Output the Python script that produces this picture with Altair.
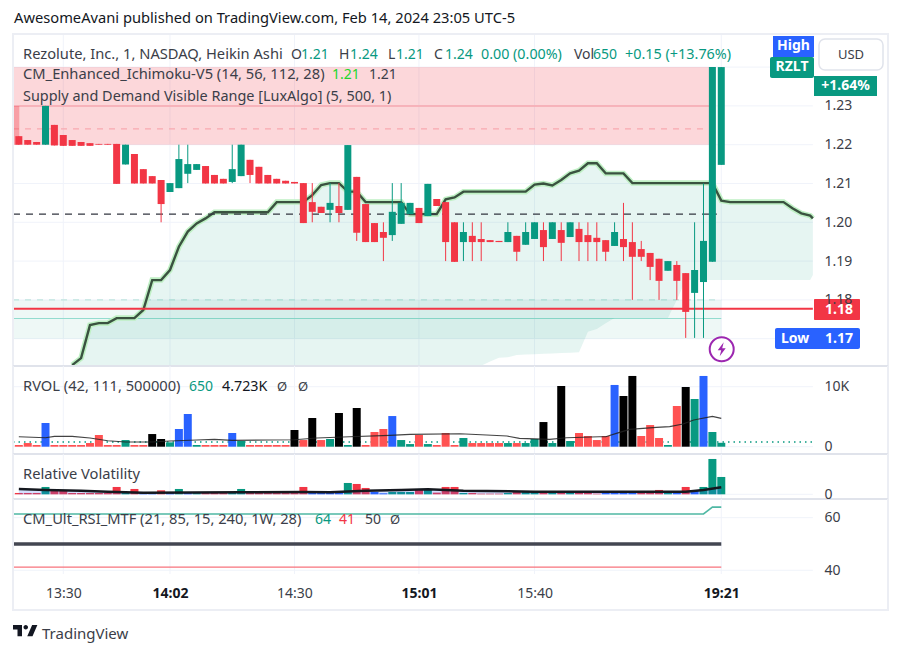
import altair as alt
import pandas as pd

# ---------- price candles (one value per bar, i = 0..79) ----------
candle_top = [1.2222,1.2212,1.2207,1.23,1.2251,1.2225,1.2212,1.2207,1.2204,1.2202,
 1.2202,1.2202,1.22,1.2176,1.2137,1.2119,1.2109,1.2101,1.2163,1.215,
 1.215,1.2145,1.2122,1.2112,1.2137,1.22,1.2161,1.2143,1.2122,1.2112,
 1.2107,1.2104,1.2101,1.2052,1.204,1.205,1.2042,1.2199,1.2117,1.2047,
 1.1998,1.1975,1.2027,1.205,1.205,1.2037,1.2099,1.206,1.2052,1.20,
 1.1975,1.1965,1.1957,1.1954,1.1952,1.1975,1.1965,1.1975,1.20,1.198,
 1.20,1.198,1.20,1.1983,1.1967,1.196,1.1954,1.1975,1.1957,1.1949,
 1.1931,1.1921,1.1906,1.19,1.189,1.1869,1.1877,1.1952,1.24,1.24]
candle_bottom = [1.22,1.22,1.22,1.22,1.2198,1.2197,1.2197,1.2197,1.2197,1.22,
 1.22,1.2099,1.2149,1.21,1.21,1.21,1.2047,1.2078,1.2088,1.2125,
 1.2135,1.21,1.21,1.21,1.2104,1.2119,1.2122,1.21,1.21,1.21,
 1.21,1.21,1.1998,1.2027,1.2024,1.2032,1.2024,1.2032,1.1973,1.1949,
 1.1949,1.196,1.1967,1.1996,1.2021,1.1998,1.2016,1.2042,1.1949,1.1898,
 1.1949,1.1949,1.1949,1.1949,1.1949,1.1949,1.1924,1.1942,1.1957,1.1936,
 1.1957,1.1947,1.1962,1.1949,1.1949,1.1949,1.1924,1.1939,1.1936,1.1911,
 1.1911,1.1885,1.1849,1.1875,1.1849,1.1769,1.1818,1.1846,1.1898,1.2148]
wick_high = list(candle_top)
wick_low = list(candle_bottom)
for k, v in {18:1.22,19:1.22,24:1.22,33:1.2101,35:1.2101,36:1.2101,41:1.20,42:1.2101,43:1.2101,
             50:1.20,51:1.20,52:1.20,55:1.20,57:1.20,59:1.20,61:1.20,63:1.20,64:1.20,65:1.20,
             67:1.20,68:1.205,69:1.20,70:1.1952,74:1.19,76:1.20,77:1.21}.items():
    wick_high[k] = v
for k, v in {16:1.20,19:1.2101,24:1.2101,26:1.2101,33:1.20,35:1.20,36:1.20,38:1.1952,41:1.19,42:1.1952,
             48:1.19,50:1.19,51:1.19,52:1.19,56:1.19,59:1.19,61:1.19,63:1.19,64:1.19,65:1.19,
             66:1.19,68:1.19,69:1.18,70:1.19,71:1.1851,72:1.18,74:1.18,75:1.1702,76:1.1702,77:1.1702}.items():
    wick_low[k] = v
candle_up = {3,12,17,18,19,20,24,25,35,37,42,43,44,46,50,55,57,58,60,62,67,73,76,77,78,79}

# ---------- Ichimoku line and cloud ----------
cloud_i = [6,7,8,9,10,11,13,14,15,16,17,18,19,20,21,22,28,29,32,33,34,35,36,37,38,39,43,44,47,48,49,50,52,
           53,54,55,56,57,58,59,60,61,62,63,64,65,66,67,68,69,73,74,75,78,79,80,86,87,88,89,89.3]
cloud_upper = [1.1632,1.165,1.1735,1.174,1.174,1.1753,1.1753,1.1774,1.1851,1.1851,1.1877,1.1937,1.1976,1.1997,
               1.201,1.2026,1.2026,1.2052,1.2052,1.207,1.2096,1.2101,1.2101,1.2079,1.2079,1.2052,1.2052,1.2021,
               1.2021,1.2059,1.2064,1.2079,1.2079,1.2079,1.2079,1.2079,1.2079,1.2079,1.2097,1.21,1.2095,1.2109,
               1.2126,1.2133,1.2152,1.2152,1.2126,1.2126,1.2126,1.2101,1.2101,1.2101,1.2101,1.2101,1.2056,1.2052,
               1.2052,1.2036,1.2023,1.2017,1.201]
cloud_lower = [1.163]*33 + [1.1641,1.1651,1.1652,1.1658,1.1659,1.166,1.1661,1.1662,1.1663,1.1664,1.1665,1.1718,
               1.1725,1.174,1.1753,1.1753,1.1753,1.1753,1.18,1.1851,1.1851,1.1851,1.1851,1.1851,1.1851,
               1.1851,1.1851,1.1864]

# ---------- RVOL ----------
rvol_values = [280,610,280,3950,280,280,280,280,610,1950,280,280,1110,280,280,2110,1280,720,2950,5450,
 280,280,280,280,2280,950,280,280,280,280,280,2780,1110,4780,1110,1280,5620,280,6450,280,
 2450,2950,5110,1110,440,1950,440,280,2280,280,1450,610,610,610,610,610,610,610,1280,4110,
 610,10120,950,2280,1780,1110,1780,10290,8450,11790,1780,3610,1450,280,6780,9950,7950,11790,2450,650]
rvol_kind = list("rrrbrrrrrrrrtrrkktbbtrrrbtrrrrrkrkrtktkrrrbttrtrrrtrrrrtrttktktrrrrbkkrrrtrktbtt")
rvol_avg_i = [0,3,4,6,8,10,12,15,17,20,22,24,28,31,33.5,37.2,41.7,44,49.6,52.6,54.9,56.3,59.7,61.6,65.3,66,67.2,68.7,71.7,73.2,74.7,75.9,78,79]
rvol_avg = [1670,1500,1720,1720,1450,1000,780,780,950,1110,1220,1060,1110,1150,1450,1670,1890,2060,2170,1950,1780,1390,1220,1500,1670,1670,2220,2890,3220,3340,3780,4450,5060,4723]
rvol_dotted = 780

# ---------- Relative Volatility (unitless heights) ----------
relvol_values = [4,4,4,22,10,10,4,4,4,4,4,22,4,16,4,4,12,4,16,4,4,4,4,4,4,16,4,4,4,4,4,4,22,4,4,4,4,34,31,19,
 7,3,7,7,7,13,15,5,22,22,4,4,2,2,2,4,10,10,10,10,10,10,10,10,10,2,4,4,10,4,10,10,13,7,7,22,10,22,106,52]
relvol_kind = list("rrrtrrrrrrrrtrbbrbtbtrrrttrrrrrrrbbbbtrrbbtttrtrrrtrrrrtrttrtrtrrrbbbbrrrtbrbttt")
relvol_line_i = [0,3,7,10,14,25,32,35,39,43,46,50,58,65,75,77,79]
relvol_line = [16,13,11,8,5,6,7,6,11,13,15,11,8,8,8,13,21]

# ---------- RSI ----------
rsi_i = [-0.657,77,78,79]
rsi_up = [61.4,61.4,64,64]
rsi_mid = 50
rsi_low = 41.2

# ---------- ticks and labels ----------
time_ticks = [5,17,31,45,58,79]
time_labels = ["13:30","14:02","14:30","15:01","15:40","19:21"]
time_bold = [17,45,79]
price_ticks = [1.18,1.19,1.20,1.21,1.22,1.23]
price_grid = [1.17,1.18,1.19,1.20,1.21,1.22,1.23,1.24]

FONT = "Noto Sans"
DARK = "#131722"
TEXT = "#3b3e48"
GRID = "#f0f3fa"
SEP = "#e0e3eb"
EDGE = "#eceef4"
GREEN = "#089981"
RED = "#f23645"
BLUE = "#2962ff"
W = 884
XDOM = [-1.219, 98.2]
XL, XR = -0.657, 89.3
one = pd.DataFrame({"a": [0]})
xs = alt.Scale(domain=XDOM, nice=False, zero=False, padding=0)
AX_OFFSET = -68


def X(f="i"):
    return alt.X(f"{f}:Q", scale=xs, axis=None)


def XT(f="i"):
    # bottom panel: the layers share one time axis, defined on its first layer
    return alt.X(f"{f}:Q", scale=xs, title=None)


def Yf(f, scale):
    # y channel of a panel; the axis is defined once, on the panel's first layer
    return alt.Y(f"{f}:Q", scale=scale, title=None)


def yaxis(values, **kw):
    return alt.Axis(orient="right", values=values, title=None, domain=False, ticks=False, grid=False, offset=AX_OFFSET,
                    labelPadding=0, labelAlign="left", labelFontSize=14, labelFont=FONT, labelColor=TEXT, zindex=1, **kw)


def helpers(oy):
    def label(text, x, y, color=TEXT, size=14.7, weight="normal", align="left"):
        return alt.Chart(one).mark_text(font=FONT, fontSize=size, fontWeight=weight, color=color, align=align,
                                        baseline="middle").encode(x=alt.value(x - 8), y=alt.value(y + 1 - oy), text=alt.value(text))

    def box(x1, y1, x2, y2, fill, radius=0, stroke=None, sw=1):
        kw = dict(fill=fill, cornerRadius=radius, opacity=1)
        if stroke:
            kw.update(stroke=stroke, strokeWidth=sw)
        return alt.Chart(one).mark_rect(**kw).encode(x=alt.value(x1 - 8), x2=alt.value(x2 - 8), y=alt.value(y1 - oy), y2=alt.value(y2 - oy))
    return label, box


def frame(oy, y1, y2, sep_bottom=True):
    _, box = helpers(oy)
    out = [box(12, y1, 14, y2, EDGE), box(887, y1, 889, y2, EDGE)]
    if sep_bottom:
        out.append(box(13, y2 - 1, 888, y2 + 1, SEP))
    return out


def vgrid(oy, y1, y2, xf=X):
    return alt.Chart(pd.DataFrame({"i": time_ticks})).mark_rule(color=GRID, strokeWidth=1).encode(
        x=xf(), y=alt.value(y1 - oy), y2=alt.value(y2 - oy))


# ---------- main panel ----------
oy = 8
label, box = helpers(oy)
ys = alt.Scale(domain=[1.16296, 1.25523], nice=False, zero=False)
Yp = lambda f: Yf(f, ys)
ax_price = yaxis(price_ticks, format=".2f")

grid_df = pd.DataFrame({"p": price_grid, "x": [XL] * len(price_grid), "x2": [XR] * len(price_grid)})
grid_layer = alt.Chart(grid_df).mark_rule(color=GRID, strokeWidth=1).encode(
    y=alt.Y("p:Q", scale=ys, axis=ax_price, title=None), x=X("x"), x2="x2:Q")


def hband(x1, x2, p1, p2, **mk):
    d = pd.DataFrame({"x": [x1], "x2": [x2], "p": [p1], "p2": [p2]})
    return alt.Chart(d).mark_rect(**mk).encode(x=X("x"), x2="x2:Q", y=Yp("p"), y2="p2:Q")


def hline(x1, x2, p, **mk):
    d = pd.DataFrame({"x": [x1], "x2": [x2], "p": [p]})
    return alt.Chart(d).mark_rule(**mk).encode(x=X("x"), x2="x2:Q", y=Yp("p"))


cloud_df = pd.DataFrame({"i": cloud_i, "u": cloud_upper, "l": cloud_lower})
cloud = alt.Chart(cloud_df).mark_area(color=GREEN, opacity=0.1, interpolate="linear").encode(x=X(), y=Yp("u"), y2="l:Q")
glow = alt.Chart(cloud_df).mark_line(color="#bff0c4", strokeWidth=5.5).encode(x=X(), y=Yp("u"))
ichi = alt.Chart(cloud_df).mark_line(color="#3a5240", strokeWidth=2.4).encode(x=X(), y=Yp("u"))

candles = pd.DataFrame({"i": list(range(80)), "top": candle_top, "bot": candle_bottom, "hi": wick_high, "lo": wick_low,
                        "dir": ["up" if i in candle_up else "down" for i in range(80)]})
cscale = alt.Color("dir:N", scale=alt.Scale(domain=["up", "down"], range=[GREEN, RED]), legend=None)
wicks = alt.Chart(candles).mark_rule(strokeWidth=1).encode(x=X(), y=Yp("hi"), y2="lo:Q", color=cscale)
bodies = alt.Chart(candles).mark_bar(size=7).encode(x=X(), y=Yp("top"), y2="bot:Q", color=cscale)

bolt = "M2 -7L-4 1L-0.5 1L-2 7L4 -1L0.5 -1Z"
main = alt.layer(
    grid_layer, vgrid(oy, 35, 366),
    hband(XL, 78, 1.22, 1.24, color=RED, opacity=0.2),
    hline(XL, 78, 1.23, color="#f7a9b0", strokeWidth=1.5),
    hline(XL, 78, 1.2241, color="#f7a9b0", strokeWidth=1.2, strokeDash=[6, 6]),
    hband(XL, 0.05, 1.22, 1.23, color=RED, opacity=0.35),
    hband(XL, 79, 1.17, 1.18, color=GREEN, opacity=0.07),
    hline(XL, 79, 1.18, color="#bfe5de", strokeWidth=1.2, strokeDash=[6, 6]),
    hline(XL, 79, 1.1752, color="#93dccf", strokeWidth=1.2),
    cloud, glow, ichi,
    hline(XL, 78.5, 1.2021, color="#333640", strokeWidth=1.4, strokeDash=[7, 6]),
    hline(XL, XR, 1.1777, color=RED, strokeWidth=2),
    wicks, bodies,
    *frame(oy, 33, 366),
    box(12, 33, 889, 35, EDGE),
    label("AwesomeAvani published on TradingView.com, Feb 14, 2024 23:05 UTC-5", 14, 18, color=DARK),
    label("Rezolute, Inc., 1, NASDAQ, Heikin Ashi", 23, 54),
    label("O", 291, 54, size=14), label("1.21", 301, 54, GREEN, size=14),
    label("H", 339, 54, size=14), label("1.24", 350, 54, GREEN, size=14),
    label("L", 388, 54, size=14), label("1.21", 396, 54, GREEN, size=14),
    label("C", 434, 54, size=14), label("1.24", 445, 54, GREEN, size=14),
    label("0.00 (0.00%)", 481, 54, GREEN, size=14.3),
    label("Vol", 574, 54, size=14), label("650", 593, 54, GREEN, size=14),
    label("+0.15 (+13.76%)", 625, 54, GREEN, size=14.4),
    label("CM_Enhanced_Ichimoku-V5 (14, 56, 112, 28)", 23, 74),
    label("1.21", 332, 74, "#22d62c", size=14), label("1.21", 369, 74, size=14),
    label("Supply and Demand Visible Range [LuxAlgo] (5, 500, 1)", 23, 96, size=14.45),
    box(819, 39, 883, 70, "#ffffff", radius=6, stroke=SEP, sw=1.5),
    label("USD", 851, 54, align="center", size=13),
    box(773, 36, 814, 57, BLUE), label("High", 793.5, 45, "#ffffff", weight="bold", align="center", size=14),
    box(770, 57, 814, 78, GREEN, radius=2), label("RZLT", 792, 66, "#ffffff", weight="bold", align="center", size=14),
    box(814, 76, 877, 96, GREEN), label("+1.64%", 845.5, 85, "#ffffff", weight="bold", align="center", size=14),
    box(814, 299, 860, 320, RED, radius=1), label("1.18", 825, 308.5, "#ffffff", weight="bold", size=14),
    box(775, 328, 860, 349, BLUE, radius=2), label("Low", 781, 337.5, "#ffffff", weight="bold", size=14), label("1.17", 825, 337.5, "#ffffff", weight="bold", size=14),
    alt.Chart(one).mark_point(shape="circle", size=576, filled=True, fill="#ffffff", stroke="#9c27b0", strokeWidth=2, opacity=1).encode(
        x=alt.value(721.7 - 8), y=alt.value(349.3 - oy)),
    alt.Chart(one).mark_point(shape=bolt, size=4, filled=True, fill="#9c27b0", opacity=1, strokeWidth=0).encode(
        x=alt.value(721.7 - 8), y=alt.value(349.3 - oy)),
).properties(width=W, height=358)

# ---------- RVOL panel ----------
oy = 366
label, box = helpers(oy)
yv = alt.Scale(domain=[-1217, 13450], nice=False, zero=False)
ax_v = yaxis([0, 10000], labelExpr="datum.value == 0 ? '0' : '10K'")
v_grid = alt.Chart(pd.DataFrame({"v": [0, 10000], "x": [XL, XL], "x2": [XR, XR]})).mark_rule(color=GRID).encode(
    y=alt.Y("v:Q", scale=yv, axis=ax_v, title=None), x=X("x"), x2="x2:Q")
rv_df = pd.DataFrame({"i": list(range(80)), "v": rvol_values, "k": rvol_kind})
rv_bars = alt.Chart(rv_df).mark_bar(size=8).encode(
    x=X(), y=Yf("v", yv), y2=alt.datum(0),
    color=alt.Color("k:N", scale=alt.Scale(domain=list("rtbk"), range=["#ff5252", GREEN, BLUE, "#000000"]), legend=None))
rv_avg = alt.Chart(pd.DataFrame({"i": rvol_avg_i, "v": rvol_avg})).mark_line(color="#222222", strokeWidth=1.1, opacity=0.85).encode(
    x=X(), y=Yf("v", yv))
rv_dot = alt.Chart(pd.DataFrame({"x": [XL], "x2": [XR], "v": [rvol_dotted]})).mark_rule(color=GREEN, strokeWidth=1.5, strokeDash=[1.5, 4]).encode(
    x=X("x"), x2="x2:Q", y=Yf("v", yv))
rvol = alt.layer(
    v_grid, vgrid(oy, 366, 454), rv_dot, rv_bars, rv_avg, *frame(oy, 366, 454),
    label("RVOL (42, 111, 500000)", 23, 386), label("650", 189, 386, GREEN, size=14), label("4.723K", 222, 386, DARK, size=14.3),
    label("Ø", 277, 386, size=13), label("Ø", 298, 386, size=13),
).properties(width=W, height=88)

# ---------- Relative Volatility panel ----------
oy = 454
label, box = helpers(oy)
yr = alt.Scale(domain=[-14.1, 120.9], nice=False, zero=False)
ax_r = yaxis([0])
r_grid = alt.Chart(pd.DataFrame({"v": [0], "x": [XL], "x2": [XR]})).mark_rule(color=GRID).encode(
    y=alt.Y("v:Q", scale=yr, axis=ax_r, title=None), x=X("x"), x2="x2:Q")
rl_df = pd.DataFrame({"i": list(range(80)), "v": relvol_values, "k": relvol_kind})
rl_bars = alt.Chart(rl_df).mark_bar(size=8).encode(
    x=X(), y=Yf("v", yr), y2=alt.datum(0),
    color=alt.Color("k:N", scale=alt.Scale(domain=list("rtb"), range=[RED, GREEN, BLUE]), legend=None))
rl_line_df = pd.DataFrame({"i": relvol_line_i, "v": relvol_line})
rl_area = alt.Chart(rl_line_df).mark_area(color=BLUE, opacity=0.2).encode(x=X(), y=Yf("v", yr), y2=alt.datum(0))
rl_line = alt.Chart(rl_line_df).mark_line(color="#15181f", strokeWidth=2.5).encode(x=X(), y=Yf("v", yr))
relvol = alt.layer(
    r_grid, vgrid(oy, 454, 499), rl_bars, rl_area, rl_line, *frame(oy, 454, 499),
    label("Relative Volatility", 23, 474),
).properties(width=W, height=45)

# ---------- RSI panel with time axis and footer ----------
oy = 499
label, box = helpers(oy)
ysi = alt.Scale(domain=[11.2, 67.1], nice=False, zero=False)
time_expr = " : ".join(f"datum.value == {t} ? '{s}'" for t, s in zip(time_ticks, time_labels)) + " : ''"
bold_test = " || ".join(f"datum.value == {t}" for t in time_bold)
ax_t = alt.Axis(values=time_ticks, labelExpr=time_expr, title=None, domain=False, ticks=False, grid=False, offset=-60, zindex=1,
                labelPadding=0, labelFontSize=14, labelFont=FONT, labelOverlap=False, labelFlush=False, labelBound=False,
                labelColor={"condition": {"test": bold_test, "value": DARK}, "value": TEXT},
                labelFontWeight={"condition": {"test": bold_test, "value": "bold"}, "value": "normal"})
ax_s = yaxis([40, 60])
s_grid = alt.Chart(pd.DataFrame({"v": [40, 60], "x": [XL, XL], "x2": [XR, XR]})).mark_rule(color=GRID).encode(
    y=alt.Y("v:Q", scale=ysi, axis=ax_s, title=None), x=alt.X("x:Q", scale=xs, axis=ax_t, title=None), x2="x2:Q")
rsi_v = vgrid(oy, 499, 574, xf=XT)
rsi_line = alt.Chart(pd.DataFrame({"i": rsi_i, "v": rsi_up})).mark_line(color="#4fb8a4", strokeWidth=1.6).encode(
    x=XT(), y=Yf("v", ysi))


def rline(v, **mk):
    return alt.Chart(pd.DataFrame({"x": [XL], "x2": [79], "v": [v]})).mark_rule(**mk).encode(
        x=XT("x"), x2="x2:Q", y=Yf("v", ysi))


logo = "M14 6H2V12H8V21H14V6ZM28 21H21L27.5 6H34.5L28 21ZM22 9A3 3 0 1 1 16 9A3 3 0 0 1 22 9Z"
rsi = alt.layer(
    s_grid, rsi_v, rline(rsi_mid, color="#434651", strokeWidth=3.5), rline(rsi_low, color="#f7737d", strokeWidth=1.3), rsi_line,
    *frame(oy, 499, 610, sep_bottom=False), box(12, 609, 889, 611, EDGE),
    label("CM_Ult_RSI_MTF (21, 85, 15, 240, 1W, 28)", 23, 519),
    label("64", 315, 519, GREEN, size=14), label("41", 339, 519, RED, size=14), label("50", 365, 519, size=14), label("Ø", 390, 519, size=13),
    alt.Chart(one).mark_point(shape=logo, size=2.25, filled=True, fill=DARK, opacity=1, strokeWidth=0).encode(
        x=alt.value(11.5 - 8), y=alt.value(620.5 - oy)),
    label("TradingView", 42, 633, TEXT, size=15),
).properties(width=W, height=147)

chart = alt.vconcat(main, rvol, relvol, rsi, spacing=0, bounds="flush").resolve_scale(
    color="independent").properties(padding=0).configure_view(stroke=None)
chart.save("out.html", embed_options={"renderer": "svg", "actions": False})
